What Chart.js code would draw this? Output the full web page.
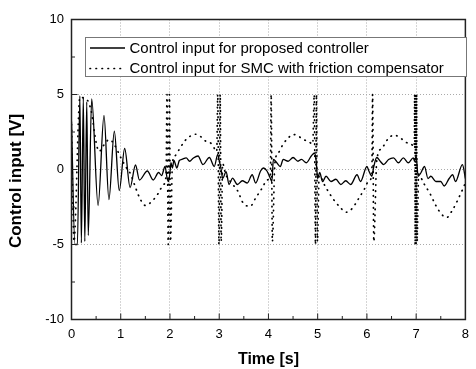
<!DOCTYPE html>
<html>
<head>
<meta charset="utf-8">
<script src="https://cdn.jsdelivr.net/npm/chart.js@4.4.0/dist/chart.umd.min.js"></script>
<style>
  html, body { margin: 0; padding: 0; background: #fff; }
  #wrap { position: relative; width: 476px; height: 369px; }
</style>
</head>
<body>
<div id="wrap"><canvas id="controlChart" width="476" height="369"></canvas></div>
<script>
// values: time [s] / control input [V]
const timeProposed = [
  0, 0.07, 0.12, 0.17, 0.20, 0.24, 0.27, 0.31, 0.34, 0.41, 0.54,
  0.66, 0.76, 0.87, 0.97, 1.08, 1.19, 1.30, 1.38, 1.54, 1.66,
  1.77, 1.83, 1.90, 1.94, 1.97, 2.00, 2.02, 2.05, 2.08, 2.14,
  2.19, 2.24, 2.33, 2.40, 2.47, 2.57, 2.67, 2.80, 2.90, 2.97,
  3.00, 3.04, 3.07, 3.14, 3.20, 3.27, 3.37, 3.47, 3.57, 3.67,
  3.74, 3.84, 3.90, 3.97, 4.04, 4.07, 4.10, 4.17, 4.24, 4.30,
  4.40, 4.50, 4.60, 4.67, 4.77, 4.87, 4.94, 4.97, 5.00, 5.04,
  5.10, 5.17, 5.27, 5.37, 5.47, 5.57, 5.67, 5.80, 5.87, 6.00,
  6.04, 6.10, 6.14, 6.20, 6.27, 6.34, 6.44, 6.54, 6.64, 6.74,
  6.84, 6.94, 6.97, 7.00, 7.04, 7.10, 7.17, 7.24, 7.30, 7.40,
  7.50, 7.57, 7.67, 7.74, 7.80, 7.94, 8.00
];
const inputProposed = [
  3.2, -5.0, -5.0, 4.9, -4.9, 4.8, -4.8, 4.5, -4.4, 4.7, -2.4,
  3.6, -2.0, 2.55, -1.4, 1.4, -1.2, 0.3, -0.7, -0.1, -0.7,
  -0.2, -0.4, 0.2, -0.55, -0.8, -0.2, 0.45, 0.1, 0.6, 0.1,
  0.6, 0.67, 0.78, 0.55, 0.75, 0.9, 0.33, 0.8, 0.2, 1.0,
  0.6, 0.0, -0.6, -0.15, -1.0, -0.58, -1.0, -0.75, -0.9, -0.35,
  -0.9, -0.1, 0.1, -0.1, -0.6, -0.8, 0.67, 0.45, 0.2, 0.67,
  0.55, 0.8, 0.55, 0.67, 0.45, 0.9, 1.1, 0.55, -0.6, -0.2,
  -0.8, -0.45, -0.8, -0.65, -1.0, -0.75, -1.0, -0.35, -0.8, 0.2,
  -0.1, -0.45, 0.2, 0.8, 0.55, 0.33, 0.67, 0.78, 0.45, 0.78,
  0.45, 0.78, 0.55, 0.9, -0.45, -0.2, 0.2, -0.6, -0.45, -0.8,
  -0.8, -1.1, -0.6, -0.35, -0.8, 0.33, -0.6
];

const timeSMC = [
  0, 0.05, 0.17, 0.30, 0.40, 0.50, 0.56, 0.65, 0.77, 0.88,
  1.00, 1.10, 1.20, 1.30, 1.40, 1.50, 1.64, 1.76, 1.87, 1.92,
  1.94, 1.965, 1.99, 2.01, 2.05, 2.10, 2.20, 2.30, 2.40, 2.52,
  2.62, 2.72, 2.85, 2.95, 2.97, 2.995, 3.02, 3.04, 3.07, 3.13,
  3.25, 3.37, 3.50, 3.63, 3.74, 3.88, 3.97, 4.04, 4.055, 4.08,
  4.13, 4.20, 4.30, 4.40, 4.50, 4.60, 4.70, 4.80, 4.90, 4.93,
  4.955, 4.975, 4.995, 5.03, 5.15, 5.30, 5.45, 5.58, 5.70, 5.82,
  5.95, 6.05, 6.10, 6.115, 6.14, 6.20, 6.30, 6.42, 6.55, 6.68,
  6.80, 6.90, 6.96, 6.97, 6.98, 6.99, 7.00, 7.01, 7.02, 7.05,
  7.15, 7.28, 7.40, 7.52, 7.62, 7.72, 7.82, 7.92, 8.00
];
const inputSMC = [
  3.0, -4.8, 4.8, 4.7, 3.9, 1.8, 1.2, 1.6, 2.0, 1.6,
  0.8, 0.2, -0.3, -1.2, -2.0, -2.4, -2.1, -1.6, -1.0, -0.4,
  5, -5, 5, -4.8, 0.4, 0.9, 1.4, 1.9, 2.2, 2.35,
  2.2, 1.9, 1.7, 1.2, 5, -5, 5, -4.8, 0.4, -0.3,
  -0.9, -1.4, -2.3, -2.45, -1.9, -1.2, -0.7, -0.3, 5, -4.8,
  0.4, 1.1, 1.7, 2.1, 2.33, 2.25, 2.0, 1.9, 1.7, 5,
  -5, 5, -4.8, -0.4, -1.1, -1.9, -2.5, -2.85, -2.6, -2.0,
  -1.3, -0.7, -0.4, 5, -4.8, 0.6, 1.4, 2.0, 2.3, 2.1,
  1.8, 1.7, 1.5, 5, -5, 5, -5, 5, -4.8, -0.3,
  -0.9, -1.6, -2.4, -3.0, -3.2, -2.8, -2.2, -1.5, -0.9
];

const seriesLabels = [
  'Control input for proposed controller',
  'Control input for SMC with friction compensator'
];
const xTickValues = [0, 1, 2, 3, 4, 5, 6, 7, 8];
const yTickValues = [-10, -5, 0, 5, 10];
const xTitle = 'Time [s]';
const yTitle = 'Control input [V]';

const FONT = 'Liberation Sans, Arial, Helvetica, sans-serif';

function toPoints(xs, ys) {
  return xs.map((x, i) => ({ x: x, y: ys[i] }));
}

// frame, inward ticks, y title and the boxed legend
const figurePlugin = {
  id: 'figurePlugin',
  afterDatasetsDraw(chart) {
    const ctx = chart.ctx;
    const area = chart.chartArea;
    const xs = chart.scales.x;
    const ys = chart.scales.y;
    ctx.save();
    ctx.strokeStyle = '#222';
    ctx.lineWidth = 1;
    ctx.beginPath();
    for (let v = 0.5; v < 8; v += 0.5) {
      const px = xs.getPixelForValue(v);
      const len = Number.isInteger(v) ? 6 : 3.5;
      ctx.moveTo(px, area.bottom);
      ctx.lineTo(px, area.bottom - len);
    }
    for (let v = -7.5; v < 10; v += 2.5) {
      const py = ys.getPixelForValue(v);
      const len = v % 5 === 0 ? 6 : 3.5;
      ctx.moveTo(area.left, py);
      ctx.lineTo(area.left + len, py);
    }
    ctx.stroke();

    ctx.lineWidth = 1.5;
    ctx.strokeStyle = '#222';
    ctx.strokeRect(area.left, area.top, area.right - area.left, area.bottom - area.top);

    // y axis title sits a bit below the middle in the original
    ctx.save();
    ctx.translate(16.5, 181);
    ctx.rotate(-Math.PI / 2);
    ctx.fillStyle = '#000';
    ctx.font = 'bold 17px ' + FONT;
    ctx.textAlign = 'center';
    ctx.textBaseline = 'middle';
    ctx.fillText(yTitle, 0, 0);
    ctx.restore();

    // legend
    const bx = 85.5, by = 37.5, bw = 381, bh = 39;
    ctx.fillStyle = '#fff';
    ctx.fillRect(bx, by, bw, bh);
    ctx.lineWidth = 1;
    ctx.strokeStyle = '#777';
    ctx.strokeRect(bx, by, bw, bh);
    const rows = [48, 68.5];
    chart.data.datasets.forEach((ds, i) => {
      ctx.beginPath();
      ctx.strokeStyle = '#000';
      ctx.lineWidth = ds.borderWidth;
      ctx.lineCap = ds.borderCapStyle || 'butt';
      ctx.setLineDash(ds.borderDash || []);
      ctx.moveTo(90, rows[i]);
      ctx.lineTo(125, rows[i]);
      ctx.stroke();
      ctx.setLineDash([]);
      ctx.fillStyle = '#000';
      ctx.font = '15px ' + FONT;
      ctx.textBaseline = 'middle';
      ctx.textAlign = 'left';
      ctx.fillText(ds.label, 129.5, rows[i] + 0.5);
    });
    ctx.restore();
  }
};

const chartCtx = document.getElementById('controlChart').getContext('2d');
const controlChart = new Chart(chartCtx, {
  type: 'scatter',
  data: {
    datasets: [
      {
        label: seriesLabels[0],
        data: toPoints(timeProposed, inputProposed),
        showLine: true,
        borderColor: '#000',
        borderWidth: 1.3,
        pointRadius: 0,
        cubicInterpolationMode: 'monotone'
      },
      {
        label: seriesLabels[1],
        data: toPoints(timeSMC, inputSMC),
        showLine: true,
        borderColor: '#000',
        borderWidth: 1.7,
        borderDash: [0.5, 5.5],
        borderCapStyle: 'round',
        pointRadius: 0,
        cubicInterpolationMode: 'monotone'
      }
    ]
  },
  options: {
    responsive: false,
    animation: false,
    devicePixelRatio: 1,
    layout: { padding: { top: 19.5, right: 4, bottom: 0, left: 0 } },
    plugins: {
      legend: { display: false },
      tooltip: { enabled: false }
    },
    scales: {
      x: {
        type: 'linear',
        min: 0,
        max: 8,
        afterBuildTicks: s => { s.ticks = xTickValues.map(v => ({ value: v })); },
        afterFit: s => { s.height = 49.5; },
        ticks: { font: { family: FONT, size: 13 }, color: '#000', padding: 7, maxRotation: 0, autoSkip: false },
        grid: { color: '#aaa', lineWidth: 1, drawTicks: false },
        border: { display: false, dash: [1, 2] },
        title: {
          display: true,
          text: xTitle,
          color: '#000',
          font: { family: FONT, size: 16, weight: 'bold' },
          padding: { top: 10, bottom: 0 }
        }
      },
      y: {
        type: 'linear',
        min: -10,
        max: 10,
        afterBuildTicks: s => { s.ticks = yTickValues.map(v => ({ value: v })); },
        afterFit: s => { s.width = 71.5; },
        ticks: { font: { family: FONT, size: 13 }, color: '#000', padding: 7.5 },
        grid: { color: '#aaa', lineWidth: 1, drawTicks: false },
        border: { display: false, dash: [1, 2] },
        title: { display: false }
      }
    }
  },
  plugins: [figurePlugin]
});
</script>
</body>
</html>
